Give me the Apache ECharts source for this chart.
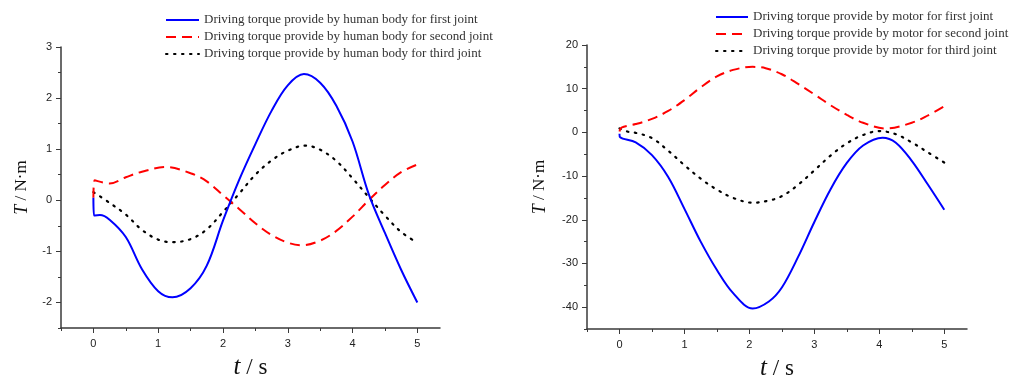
<!DOCTYPE html>
<html>
<head>
<meta charset="utf-8">
<script src="https://cdn.jsdelivr.net/npm/echarts@6/dist/echarts.min.js"></script>
<style>
  html, body { margin: 0; padding: 0; background: #fff; }
  #chart { width: 1017px; height: 381px; }
</style>
</head>
<body>
<div id="chart"></div>
<script>
// left panel: human body torque (N·m)
const humanT1 = [0, 0.01, 0.1, 0.25, 0.5, 0.75, 1.0, 1.22, 1.5, 1.75, 2.0, 2.25, 2.5, 2.75, 3.0, 3.25, 3.5, 3.75, 4.0, 4.25, 4.5, 4.75, 5.0]
const humanV1 = [0.05, -0.3, -0.29, -0.38, -0.72, -1.35, -1.78, -1.9, -1.72, -1.28, -0.4, 0.4, 1.1, 1.75, 2.25, 2.47, 2.3, 1.85, 1.15, 0.12, -0.64, -1.36, -2.0]
const humanT2 = [0, 0.02, 0.25, 0.5, 0.75, 1.12, 1.5, 1.75, 2.0, 2.25, 2.5, 2.75, 3.0, 3.22, 3.5, 3.75, 4.0, 4.25, 4.5, 4.75, 5.0]
const humanV2 = [0.05, 0.39, 0.33, 0.45, 0.56, 0.65, 0.53, 0.37, 0.1, -0.17, -0.45, -0.68, -0.83, -0.88, -0.79, -0.6, -0.32, 0.0, 0.3, 0.55, 0.7]
const humanT3 = [0, 0.25, 0.5, 0.75, 1.0, 1.22, 1.5, 1.75, 2.0, 2.25, 2.5, 2.75, 3.0, 3.27, 3.5, 3.75, 4.0, 4.25, 4.5, 4.75, 5.0]
const humanV3 = [0.16, -0.05, -0.28, -0.58, -0.77, -0.82, -0.76, -0.57, -0.23, 0.13, 0.5, 0.78, 0.97, 1.07, 0.99, 0.77, 0.43, 0.06, -0.3, -0.62, -0.83]

// right panel: motor torque (N·m)
const motorT1 = [0, 0.01, 0.25, 0.5, 0.75, 1.0, 1.25, 1.5, 1.75, 2.05, 2.3, 2.5, 2.75, 3.0, 3.25, 3.5, 3.75, 4.05, 4.25, 4.5, 4.75, 5.0]
const motorV1 = [-0.3, -1.1, -2.3, -5.2, -10.2, -17.5, -25, -31.5, -36.8, -40.3, -38.7, -35.5, -28.5, -20.5, -13, -7, -3, -1.2, -2.3, -6.5, -12, -17.7]
const motorT2 = [0, 0.03, 0.25, 0.5, 0.75, 1.0, 1.25, 1.5, 1.75, 2.05, 2.25, 2.5, 2.75, 3.0, 3.25, 3.5, 3.75, 4.1, 4.5, 4.75, 5.0]
const motorV2 = [0.2, 1.1, 1.9, 3.1, 4.9, 7.4, 10.3, 12.8, 14.3, 15, 14.7, 13.3, 11.1, 8.7, 6.2, 4.0, 2.2, 0.9, 2.2, 3.9, 6.0]
const motorT3 = [0, 0.12, 0.25, 0.5, 0.75, 1.0, 1.25, 1.5, 1.75, 2.05, 2.3, 2.5, 2.75, 3.0, 3.25, 3.5, 3.75, 4.0, 4.25, 4.5, 4.75, 5.0]
const motorV3 = [0.9, 0.2, -0.1, -1.3, -4.2, -7.5, -10.6, -13.1, -15, -16.1, -15.6, -14.6, -12, -8.7, -5.3, -2.5, -0.6, 0.3, -0.4, -2.3, -4.6, -6.9]

const xTicks = [0, 1, 2, 3, 4, 5]
const xMinor = [-0.5, 0.5, 1.5, 2.5, 3.5, 4.5]
const humanYTicks = [-2, -1, 0, 1, 2, 3]
const humanYMinor = [-2.5, -1.5, -0.5, 0.5, 1.5, 2.5]
const motorYTicks = [-40, -30, -20, -10, 0, 10, 20]
const motorYMinor = [-45, -35, -25, -15, -5, 5, 15]

const humanNames = [
  'Driving torque provide by human body for first joint',
  'Driving torque provide by human body for second joint',
  'Driving torque provide by human body for third joint',
]
const motorNames = [
  'Driving torque provide by motor for first joint',
  'Driving torque provide by motor for second joint',
  'Driving torque provide by motor for third joint',
]

const serif = 'Liberation Serif'
const sans = 'Liberation Sans'
const axisColor = '#3a3a3a'
const xMax = 5.35

const zip = (ts, vs) => ts.map((t, i) => [t, vs[i]])

function mainX(gridIndex) {
  return {
    type: 'value', gridIndex, min: -0.5, max: xMax, position: 'bottom',
    name: '{i|t} / s', nameLocation: 'middle', nameGap: 27,
    nameTextStyle: {
      fontFamily: serif, fontSize: 23, color: '#111',
      rich: { i: { fontFamily: serif, fontSize: 25, fontStyle: 'italic', color: '#111' } },
    },
    axisLine: { show: true, onZero: false, lineStyle: { color: axisColor, width: 1.5 } },
    axisTick: { show: false },
    axisLabel: { customValues: xTicks, margin: 10, fontFamily: sans, fontSize: 11, color: '#222' },
    splitLine: { show: false },
  }
}
// overlay axis that only draws tick marks
function tickX(gridIndex, ticks, len) {
  return {
    type: 'value', gridIndex, min: -0.5, max: xMax, position: 'bottom', offset: 0,
    axisLine: { show: false, onZero: false },
    axisTick: { show: true, customValues: ticks, length: len, lineStyle: { color: axisColor } },
    axisLabel: { show: false },
    splitLine: { show: false },
  }
}
function mainY(gridIndex, min, max, ticks, gap) {
  return {
    type: 'value', gridIndex, min, max, position: 'left',
    name: '{i|T} / N·m', nameLocation: 'middle', nameRotate: 90, nameGap: gap,
    nameTextStyle: {
      fontFamily: serif, fontSize: 17, color: '#111',
      rich: { i: { fontFamily: serif, fontSize: 18, fontStyle: 'italic', color: '#111' } },
    },
    axisLine: { show: true, onZero: false, lineStyle: { color: axisColor, width: 1.5 } },
    axisTick: { show: false },
    axisLabel: { customValues: ticks, margin: 9, fontFamily: sans, fontSize: 11, color: '#222' },
    splitLine: { show: false },
  }
}
function tickY(gridIndex, min, max, ticks, len) {
  return {
    type: 'value', gridIndex, min, max, position: 'left', offset: 0,
    axisLine: { show: false, onZero: false },
    axisTick: { show: true, customValues: ticks, length: len, lineStyle: { color: axisColor } },
    axisLabel: { show: false },
    splitLine: { show: false },
  }
}

const styles = [
  { color: '#0000ff', width: 2, type: 'solid' },
  { color: '#ff0000', width: 2, type: [10, 6] },
  { color: '#000000', width: 2.2, type: [1.5, 6.5], cap: 'round' },
]

function line(name, data, k, axisIndex) {
  return {
    type: 'line', name, data, xAxisIndex: axisIndex, yAxisIndex: axisIndex,
    smooth: 0.35, symbol: 'none', showSymbol: false,
    lineStyle: styles[k], itemStyle: { color: styles[k].color },
    z: 3 - k,
  }
}

const legendText = { fontFamily: serif, fontSize: 13, color: '#333', lineHeight: 14 }

const chart = echarts.init(document.getElementById('chart'), null, { renderer: 'canvas' })
chart.setOption({
  backgroundColor: '#ffffff',
  animation: false,
  grid: [
    { left: 61, top: 47, width: 379, height: 281, outerBoundsMode: 'none' },
    { left: 587, top: 45, width: 380, height: 284, outerBoundsMode: 'none' },
  ],
  legend: [
    {
      data: humanNames, orient: 'vertical', left: 160, top: 8,
      itemWidth: 33, itemHeight: 14, itemGap: 3, textStyle: legendText,
      itemStyle: { opacity: 0 },
    },
    {
      data: motorNames, orient: 'vertical', left: 710, top: 5,
      itemWidth: 32, itemHeight: 14, itemGap: 3, textStyle: legendText,
      itemStyle: { opacity: 0 },
    },
  ],
  xAxis: [
    mainX(0), tickX(0, xTicks, 5), tickX(0, xMinor, 3),
    mainX(1), tickX(1, xTicks, 5), tickX(1, xMinor, 3),
  ],
  yAxis: [
    mainY(0, -2.5, 3, humanYTicks, 30),
    tickY(0, -2.5, 3, humanYTicks, 5),
    tickY(0, -2.5, 3, humanYMinor, 3),
    mainY(1, -45, 20, motorYTicks, 38),
    tickY(1, -45, 20, motorYTicks, 5),
    tickY(1, -45, 20, motorYMinor, 3),
  ],
  series: [
    line(humanNames[0], zip(humanT1, humanV1), 0, 0),
    line(humanNames[1], zip(humanT2, humanV2), 1, 0),
    line(humanNames[2], zip(humanT3, humanV3), 2, 0),
    line(motorNames[0], zip(motorT1, motorV1), 0, 3),
    line(motorNames[1], zip(motorT2, motorV2), 1, 3),
    line(motorNames[2], zip(motorT3, motorV3), 2, 3),
  ],
})
</script>
</body>
</html>
